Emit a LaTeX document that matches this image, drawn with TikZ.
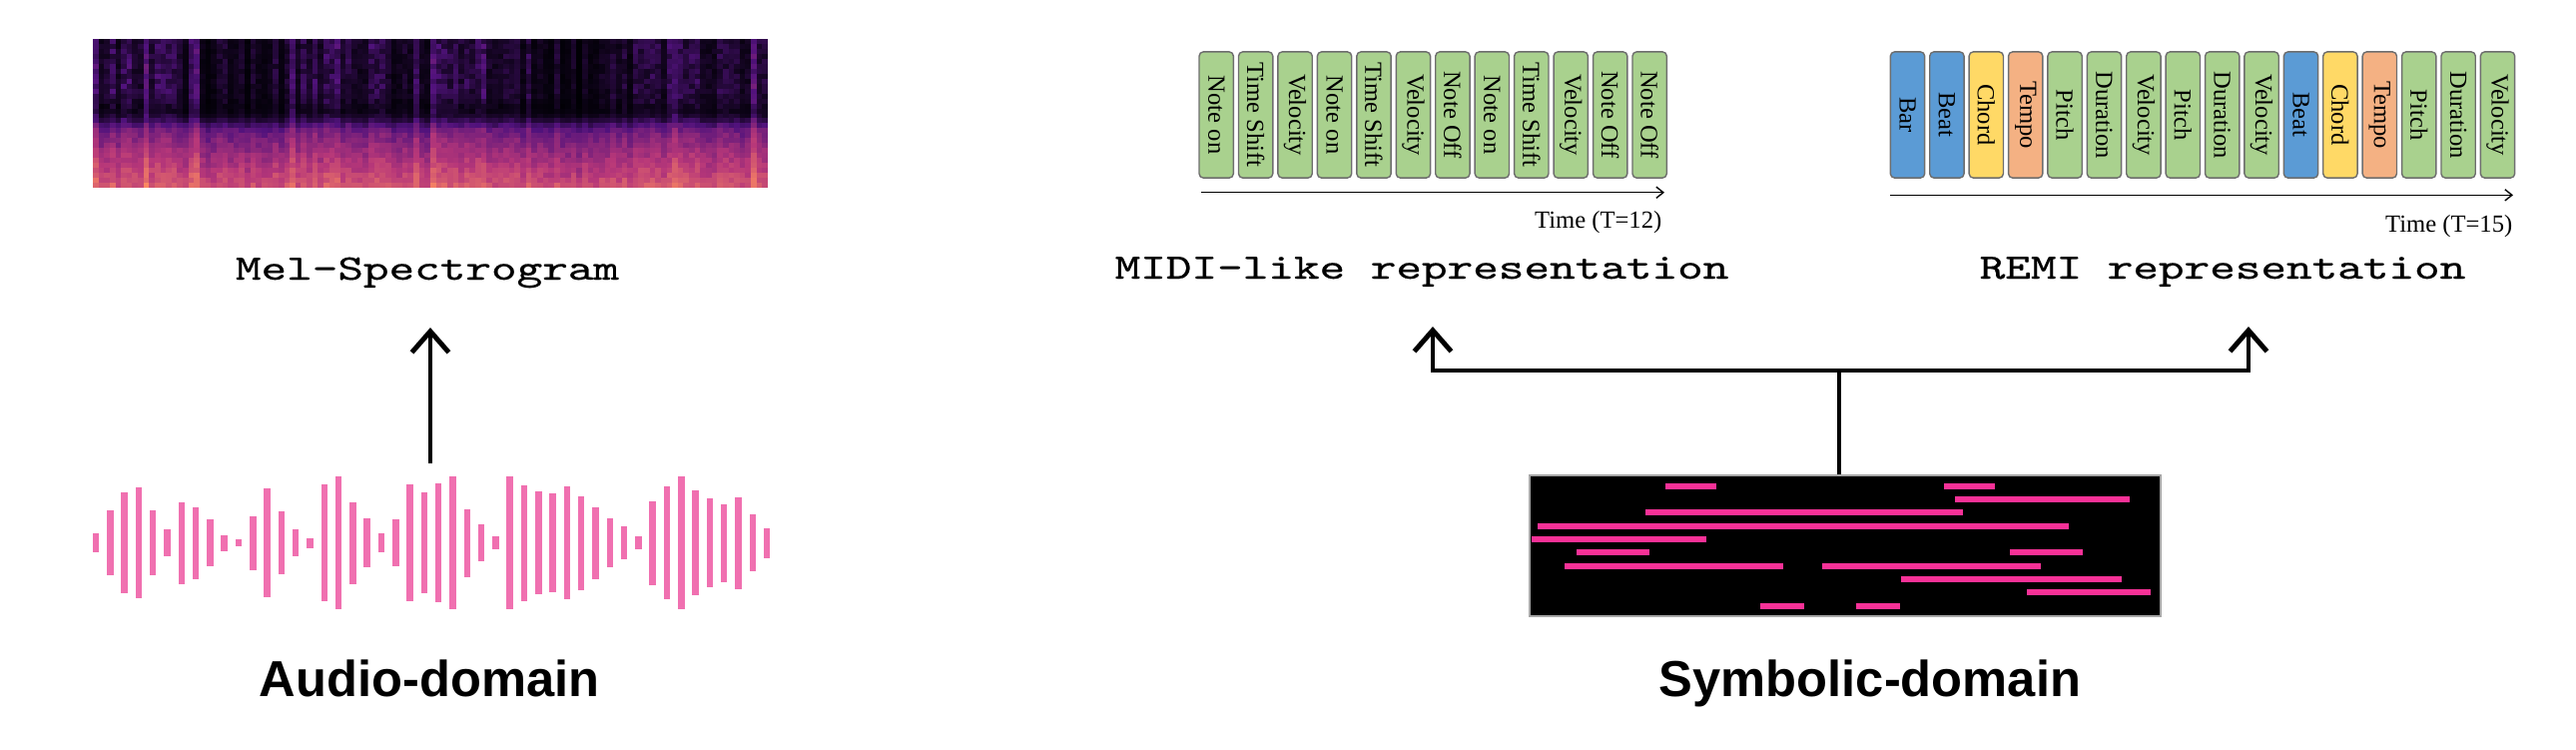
\documentclass[tikz,border=0pt]{standalone}
\usepackage{fontspec}
\setmainfont{Liberation Serif}
\newfontfamily\headfont{Liberation Sans}
\newfontfamily\reprfont[FakeBold = 0.5]{Latin Modern Mono}
\usetikzlibrary{arrows.meta}
\usetikzlibrary{positioning}
\tikzset{tok/.style = {draw = tokedge, line width = 0.4pt, rounded corners = 1.2pt, rotate = -90,
                       minimum width = 35.9pt, minimum height = 9.76pt, inner sep = 0,
                       font = \fontsize{7}{8}\selectfont}}
\tikzset{repr/.style = {anchor = base, inner sep = 0, xscale = 1.36, font = \reprfont\fontsize{10.2}{12}\selectfont}}
\tikzset{domainlbl/.style = {anchor = base, inner sep = 0, font = \headfont\bfseries\fontsize{14.4}{17}\selectfont}}
\tikzset{timelbl/.style = {anchor = base east, inner sep = 0, font = \fontsize{7}{8}\selectfont}}
\tikzset{timeaxis/.style = {-{Straight Barb[length = 2pt, width = 3.2pt]}, line width = 0.4pt}}
\tikzset{bigtip/.tip = {Straight Barb[length = 6pt, width = 10.5pt]}}
\tikzset{bigline/.style = {line width = 1.4pt}}
\definecolor{tokgreen}{RGB}{169, 209, 142}
\definecolor{tokblue}{RGB}{91, 155, 213}
\definecolor{tokyellow}{RGB}{255, 217, 102}
\definecolor{tokorange}{RGB}{244, 177, 131}
\definecolor{tokedge}{RGB}{110, 110, 110}
\definecolor{wavepink}{RGB}{240, 112, 176}
\definecolor{notepink}{RGB}{247, 49, 151}
\definecolor{mag0}{RGB}{0, 0, 4}
\definecolor{mag1}{RGB}{81, 18, 124}
\definecolor{mag2}{RGB}{183, 55, 121}
\definecolor{mag3}{RGB}{252, 137, 97}
\definecolor{mag4}{RGB}{252, 253, 191}

\begin{document}
\begin{tikzpicture}[x = 0.01cm, y = 0.01cm]
    \useasboundingbox (0, 0) rectangle (2580, -750);

    % mel-spectrogram, drawn cell by cell
    \pgfmathsetseed{11}
    \foreach \c in {0, ..., 119} {
      \pgfmathsetmacro{\amp}{0.5*rnd + 0.5*(0.5 + 0.5*sin(\c*9 + 40)*sin(\c*3.1 + 10))}
      \pgfmathsetmacro{\spike}{ifthenelse(rnd > 0.88, 1, 0)}
      \foreach \r in {0, ..., 29} {
        \pgfmathsetmacro{\f}{\r/29}
        \pgfmathsetmacro{\band}{exp(-min(9, ((\f - 0.48)/0.08)^2))}
        \pgfmathsetmacro{\w}{1/(1 + exp(max(-9, min(9, (0.57 - \f)/0.025))))}
        \pgfmathsetmacro{\up}{0.36*\amp^1.5*(0.35 + 0.65*rnd)*(1 - 0.55*\band) + 0.14*\spike*(0.6 + 0.4*rnd)}
        \pgfmathsetmacro{\low}{0.17 + 0.30*max(0, \f - 0.55)/0.45 + 0.14*\amp + 0.09*rnd + 0.08*\spike}
        \pgfmathsetmacro{\v}{max(0, min(0.99, (1 - \w)*\up + \w*\low))}
        \pgfmathtruncatemacro{\seg}{min(3, floor(4*\v))}
        \pgfmathtruncatemacro{\pct}{100*(4*\v - \seg)}
        \ifcase\seg \colorlet{cell}{mag1!\pct!mag0}
        \or \colorlet{cell}{mag2!\pct!mag1}
        \or \colorlet{cell}{mag3!\pct!mag2}
        \or \colorlet{cell}{mag4!\pct!mag3}
        \fi
        \fill [cell] (93 + 5.633*\c, -39 - 4.967*\r) rectangle ++(5.9, -5.2);
      }
    }
    \node [repr] (mel) at (428, -280) {Mel-Spectrogram};

    % waveform
    \foreach \h [count = \i from 0] in {9.3, 32.3, 50.3, 55.3, 32.3, 13.8, 41, 36, 23.2, 8, 3.3, 27,
        54.2, 31.5, 13.7, 5, 58.3, 66.8, 41, 24.8, 9.3, 23.5, 58.3, 50.5, 59.5, 66.8, 34, 18.3,
        6.3, 66.8, 58, 51.3, 49.5, 56.3, 47, 36, 24.7, 16.3, 6.3, 42, 56.3, 66.8, 52.7, 44.3,
        39, 46, 28.7, 15}
      \fill [wavepink] (92.75 + 14.3*\i, -543.5 + \h) rectangle ++(6.5, -2*\h);
    \coordinate (wavetop) at (431, -464);
    \coordinate (melin) at (431, -328);
    \draw [bigline, -bigtip] (wavetop) -- (melin);
    \node [domainlbl] (audio) at (430, -697) {Audio-domain};

    % MIDI-like tokens
    \foreach \lbl [count = \i from 0] in {Note on, Time Shift, Velocity, Note on, Time Shift, Velocity,
        Note Off, Note on, Time Shift, Velocity, Note Off, Note Off}
      \node [tok, fill = tokgreen] (midi\i) at (1218.2 + 39.45*\i, -115) {\lbl};
    \coordinate (midit0) at (1203, -192.7);
    \coordinate (midit1) at (1667, -192.7);
    \draw [timeaxis] (midit0) -- (midit1);
    \node [timelbl] (miditime) at (1665, -228) {Time (T=12)};
    \node [repr] (midi) at (1424, -279) {MIDI-like representation};

    % REMI tokens
    \foreach \lbl/\col [count = \i from 0] in {Bar/tokblue, Beat/tokblue, Chord/tokyellow, Tempo/tokorange,
        Pitch/tokgreen, Duration/tokgreen, Velocity/tokgreen, Pitch/tokgreen, Duration/tokgreen,
        Velocity/tokgreen, Beat/tokblue, Chord/tokyellow, Tempo/tokorange, Pitch/tokgreen,
        Duration/tokgreen, Velocity/tokgreen}
      \node [tok, fill = \col] (remi\i) at (1910.5 + 39.4*\i, -115) {\lbl};
    \coordinate (remit0) at (1893, -195.3);
    \coordinate (remit1) at (2517, -195.3);
    \draw [timeaxis] (remit0) -- (remit1);
    \node [timelbl] (remitime) at (2517, -232) {Time (T=15)};
    \node [repr] (remi) at (2226, -279) {REMI representation};

    % piano roll
    \node [fill = black, draw = gray!70, line width = 0.4pt, inner sep = 0,
           minimum width = 179.8pt, minimum height = 40.1pt] (roll) at (1848, -546.5) {};
    \foreach \row/\a/\b in {0/1668.2/1719.3, 0/1947.3/1998.3, 1/1958.2/2132.6, 2/1647.7/1966,
        3/1539.6/2072.4, 4/1534.4/1708.8, 5/1578.9/1652.1, 5/2013.1/2086.4, 6/1567.1/1786.4,
        6/1825.2/2044.1, 7/1903.7/2125.2, 8/2030.1/2153.5, 9/1763.3/1807.3, 9/1858.8/1903.2}
      \fill [notepink] (\a, -483.8 - 13.33*\row) rectangle (\b, -489.6 - 13.33*\row);
    \node [domainlbl] (symb) at (1873, -697) {Symbolic-domain};

    % roll feeds both token views
    \coordinate (fork) at (1842, -371);
    \coordinate (midiin) at (1435, -327);
    \coordinate (remiin) at (2252, -327);
    \draw [bigline] (roll.north -| fork) -- (fork);
    \draw [bigline, bigtip-bigtip] (midiin) -- (midiin |- fork) -- (fork -| remiin) -- (remiin);
  \end{tikzpicture}
\end{document}
